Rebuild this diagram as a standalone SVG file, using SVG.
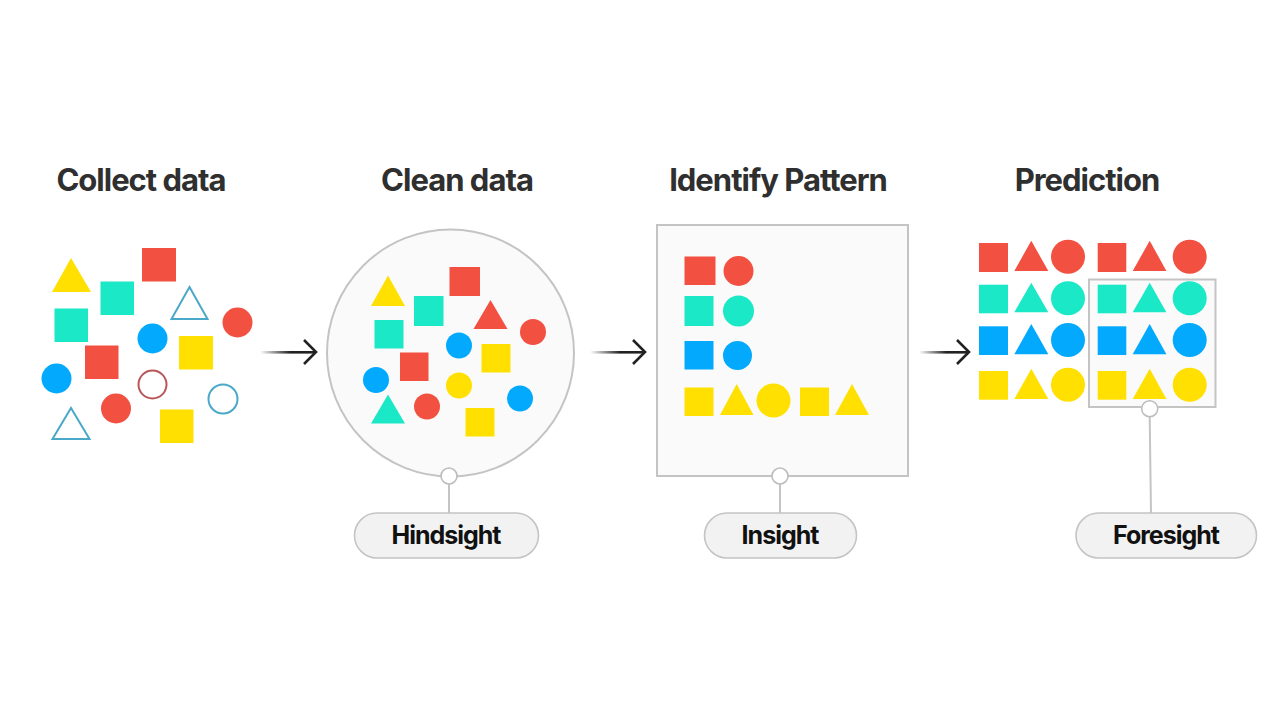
<svg xmlns="http://www.w3.org/2000/svg" width="1280" height="720" viewBox="0 0 1280 720">
<style>
.t{font-family:Inter,"Liberation Sans",sans-serif;font-weight:700;font-size:31px;letter-spacing:-1px;fill:#2f2f2f;text-anchor:middle}
.l{font-family:Inter,"Liberation Sans",sans-serif;font-weight:700;font-size:25px;letter-spacing:-1px;fill:#111;text-anchor:middle}
.r{fill:#f25041}.g{fill:#1ae8c6}.b{fill:#03a9fd}.y{fill:#ffe000}
.pan{fill:#fafafa;stroke:#c4c4c4;stroke-width:2}
.pill{fill:#f2f2f2;stroke:#c4c4c4;stroke-width:1.6}
.dot{fill:#fff;stroke:#bdbdbd;stroke-width:1.6}
.lead{stroke:#c4c4c4;stroke-width:2;fill:none}
.ob{fill:none;stroke:#4aa8c8;stroke-width:2}
.or{fill:none;stroke:#b9565a;stroke-width:2}
.head{fill:none;stroke:#222;stroke-width:2.6}
</style>
<defs>
<linearGradient id="fade" gradientUnits="objectBoundingBox" x1="0" y1="0" x2="1" y2="0"><stop offset="0" stop-color="#222" stop-opacity="0"/><stop offset=".55" stop-color="#222"/></linearGradient>
</defs>
<rect width="1280" height="720" fill="#fff"/>
<text class="t" x="141" y="191">Collect data</text>
<text class="t" x="457" y="191">Clean data</text>
<text class="t" x="778" y="191">Identify Pattern</text>
<text class="t" x="1087" y="191">Prediction</text>
<g id="collect">
<path class="y" d="M71 258L91 292H52Z"/>
<rect class="r" x="142" y="248" width="34" height="33.500"/>
<rect class="g" x="100.500" y="281.500" width="33.500" height="33.500"/>
<path class="ob" d="M189.500 287L207.500 319H171.500Z"/>
<circle class="r" cx="237.500" cy="322.500" r="15"/>
<rect class="g" x="54.500" y="308.500" width="33.500" height="33.500"/>
<circle class="b" cx="152.500" cy="338.500" r="15"/>
<rect class="y" x="179" y="336" width="34" height="33.500"/>
<rect class="r" x="85" y="345.500" width="33.500" height="33.500"/>
<circle class="b" cx="56.500" cy="378.500" r="15"/>
<circle class="or" cx="152.500" cy="384.500" r="14"/>
<circle class="ob" cx="223" cy="399" r="14.500"/>
<circle class="r" cx="116" cy="408.500" r="15"/>
<rect class="y" x="160" y="409.500" width="33.500" height="33.500"/>
<path class="ob" d="M71 408L89.500 439H52.500Z"/>
</g>
<g id="clean">
<circle class="pan" cx="450.500" cy="353" r="123.500"/>
<path class="y" d="M388 275.500L405 306H371Z"/>
<rect class="r" x="449.500" y="267" width="30.500" height="29"/>
<rect class="g" x="414" y="296" width="29.500" height="30"/>
<path class="r" d="M490.500 300L507.500 329H473.500Z"/>
<circle class="r" cx="533" cy="332" r="13"/>
<rect class="g" x="374.500" y="320" width="29" height="28.500"/>
<circle class="b" cx="459" cy="345.500" r="13"/>
<rect class="y" x="481.500" y="344" width="29" height="28.500"/>
<rect class="r" x="400" y="352.500" width="28.500" height="28.500"/>
<circle class="b" cx="376" cy="380" r="13"/>
<circle class="y" cx="459" cy="385.500" r="13"/>
<circle class="b" cx="520" cy="398.500" r="13"/>
<path class="g" d="M388 394.500L405 423.500H371Z"/>
<circle class="r" cx="427" cy="406.500" r="13"/>
<rect class="y" x="465.500" y="408" width="29" height="28.500"/>
</g>
<g id="pattern">
<rect class="pan" x="657" y="225" width="251" height="251"/>
<rect class="r" x="684.500" y="256.500" width="31" height="28.500"/>
<circle class="r" cx="738.500" cy="271" r="15"/>
<rect class="g" x="684.500" y="296" width="29" height="30"/>
<circle class="g" cx="738.500" cy="311" r="15.500"/>
<rect class="b" x="684.500" y="341" width="29" height="28.500"/>
<circle class="b" cx="737.500" cy="355.500" r="14.500"/>
<rect class="y" x="684.500" y="387.500" width="29" height="28.500"/>
<path class="y" d="M736.700 384L753.500 415H720Z"/>
<circle class="y" cx="773.500" cy="400.500" r="17"/>
<rect class="y" x="800" y="387.500" width="29" height="28.500"/>
<path class="y" d="M852 384L869 415H835Z"/>
</g>
<g id="prediction">
<rect class="pan" x="1089" y="279.500" width="126.500" height="127.500"/>
<rect class="r" x="979" y="243" width="29" height="29"/><path class="r" d="M1031.300 240.700L1048.300 271H1014.300Z"/><circle class="r" cx="1068" cy="256.700" r="17"/><rect class="r" x="1097.700" y="243" width="28.600" height="29"/><path class="r" d="M1149.700 240.700L1166.400 271H1132.700Z"/><circle class="r" cx="1189.700" cy="256.700" r="17"/>
<rect class="g" x="979" y="284.700" width="29" height="28.600"/><path class="g" d="M1031.300 282.700L1048.300 312.300H1014.300Z"/><circle class="g" cx="1068" cy="298.300" r="17"/><rect class="g" x="1097.700" y="284.700" width="28.600" height="28.600"/><path class="g" d="M1149.700 282.700L1166.400 312.300H1132.700Z"/><circle class="g" cx="1189.700" cy="298.300" r="17"/>
<rect class="b" x="979" y="326.300" width="29" height="28.700"/><path class="b" d="M1031.300 324L1048.300 354.300H1014.300Z"/><circle class="b" cx="1068" cy="340" r="17"/><rect class="b" x="1097.700" y="326.300" width="28.600" height="28.700"/><path class="b" d="M1149.700 324L1166.400 354.300H1132.700Z"/><circle class="b" cx="1189.700" cy="340" r="17"/>
<rect class="y" x="979" y="371" width="29" height="28.700"/><path class="y" d="M1031.300 368.700L1048.300 399H1014.300Z"/><circle class="y" cx="1068" cy="384.700" r="17"/><rect class="y" x="1097.700" y="371" width="28.600" height="28.700"/><path class="y" d="M1149.700 368.700L1166.400 399H1132.700Z"/><circle class="y" cx="1189.700" cy="384.700" r="17"/>
</g>
<g id="connectors">
<rect x="260" y="351" width="55" height="2.600" fill="url(#fade)"/><path class="head" d="M304 340L316 352L304 364"/>
<rect x="590" y="351" width="55" height="2.600" fill="url(#fade)"/><path class="head" d="M633 340L645 352L633 364"/>
<rect x="919" y="351" width="50" height="2.600" fill="url(#fade)"/><path class="head" d="M957 340L969 352L957 364"/>
<path class="lead" d="M449 484V513"/>
<path class="lead" d="M780 484V513"/>
<path class="lead" d="M1149.700 417L1151 513"/>
</g>
<g id="hindsight"><circle class="dot" cx="449" cy="476" r="8"/><rect class="pill" x="354.500" y="513" width="184" height="45" rx="22.500"/><text class="l" x="446" y="544">Hindsight</text></g>
<g id="insight"><circle class="dot" cx="780" cy="476" r="8"/><rect class="pill" x="704.500" y="513" width="152" height="45" rx="22.500"/><text class="l" x="780" y="544">Insight</text></g>
<g id="foresight"><circle class="dot" cx="1149.700" cy="408.700" r="8"/><rect class="pill" x="1076" y="513" width="180.500" height="45" rx="22.500"/><text class="l" x="1166" y="544">Foresight</text></g>
</svg>
